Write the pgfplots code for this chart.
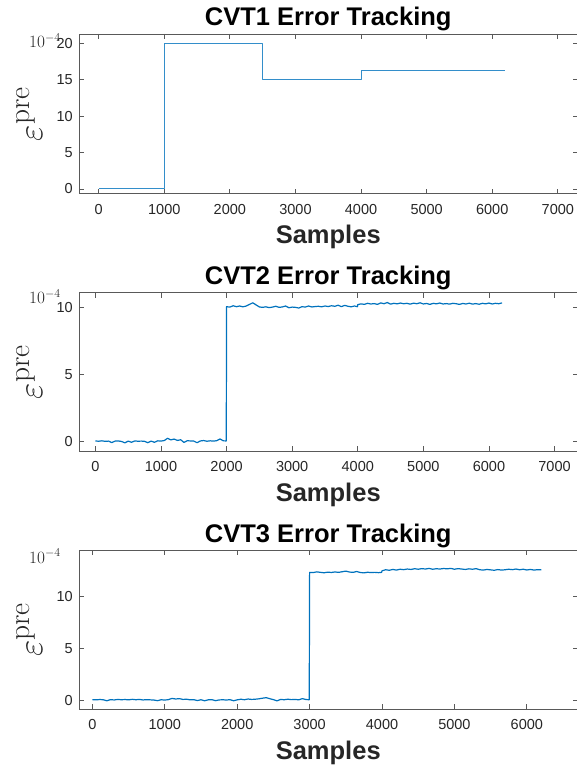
\documentclass[border=0pt]{standalone}
\usepackage[no-math]{fontspec}
\setmainfont{Liberation Sans}
\usepackage{pgfplots}
\pgfplotsset{compat=1.18}
\usetikzlibrary{calc}

\definecolor{mblue}{RGB}{0,114,189}
\definecolor{tickgray}{RGB}{38,38,38}

\pgfplotsset{
  cvt/.style={
    scale only axis,
    width=498.5pt,
    anchor=south west,
    axis line style={black!65, line width=0.8pt},
    tick style={black!65, line width=0.8pt},
    major tick length=5pt,
    tick align=inside,
    scaled ticks=false,
    /pgf/number format/assume math mode=true,
    /pgf/number format/1000 sep={},
    ticklabel style={font=\fontsize{14.5}{16}\selectfont, text=tickgray},
    xticklabel style={inner sep=0pt, yshift=-10pt},
    yticklabel style={inner sep=0pt, xshift=-6pt},
    xtick={0,1000,...,7000},
  },
  sig/.style={mblue, line width=1.2pt, line join=round},
}

% title, x label, y label and the 10^{-4} factor of one axis
\newcommand{\decor}[3]{%
  \node[anchor=base, font=\fontsize{25.5}{28}\selectfont\bfseries]
    at ([yshift=8pt]#1.north) {#2};
  \node[anchor=base, font=\fontsize{25.5}{28}\selectfont\bfseries, text=tickgray]
    at ([yshift=-50pt]#1.south) {Samples};
  \node[rotate=90, anchor=base, font=\fontsize{24.88}{28}\selectfont, text=tickgray]
    at ([xshift=-37pt]$(#1.north west)!0.5!(#1.south west)$) {\scalebox{1.42}{$\varepsilon^{\mathrm{pre}}$}};
  \node[anchor=base east, inner sep=0pt, font=\fontsize{17.28}{19}\selectfont, text=tickgray]
    at ([xshift=-18pt,yshift=-#3]#1.north west) {$10^{-4}$};
}

\begin{document}
\begin{tikzpicture}

% CVT1
\begin{axis}[cvt, name=a1, at={(79pt,-193.7pt)}, height=159.7pt,
  xmin=-300, xmax=7300, ymin=-0.65, ymax=21.28, ytick={0,5,10,15,20}]
\addplot[sig, line width=1pt, mblue!80] coordinates {
(0,0)(1000,0)(1000,20)(2500,20)(2500,15.05)(4000,15.05)(4000,16.2)(6200,16.2)};
\end{axis}
\decor{a1}{CVT1 Error Tracking}{14pt}

% CVT2
\begin{axis}[cvt, name=a2, at={(79pt,-451.3pt)}, height=158.6pt,
  xmin=-250, xmax=7350, ymin=-0.71, ymax=11.09, ytick={0,5,10}]
\addplot[sig] coordinates {
(0,0.06)(50,0.04)(100,0.07)(150,0.03)(200,0.05)(250,-0.06)(300,0.05)(350,0.06)
(400,0.02)(450,-0.08)(500,0.05)(550,-0.04)(600,0.06)(650,0.04)(700,0.05)(750,0.03)
(800,-0.07)(850,0.05)(900,-0.04)(950,0.07)(1000,0.05)(1050,0.09)(1100,0.26)(1150,0.14)
(1200,0.20)(1250,0.10)(1300,0.15)(1350,-0.05)(1400,0.08)(1450,0.06)(1500,0.05)(1550,-0.07)
(1600,0.06)(1650,0.09)(1700,0.04)(1750,0.07)(1800,0.05)(1850,0.08)(1900,0.21)(1950,0.07)
(1995,0.06)(2000,10.05)(2050,10.02)(2100,10.12)(2150,10.05)(2200,10.1)(2250,10.04)(2300,10.1)
(2350,10.22)(2400,10.34)(2450,10.18)(2500,10.03)(2550,10.0)(2600,10.04)(2650,9.98)(2700,10.02)
(2750,10.08)(2800,10.0)(2850,10.03)(2900,10.1)(2950,9.97)(3000,10.02)(3050,10.0)(3100,9.95)
(3150,10.05)(3200,10.02)(3250,10.1)(3300,10.03)(3350,10.06)(3400,10.08)(3450,10.04)(3500,10.1)
(3550,10.06)(3600,10.12)(3650,10.08)(3700,10.16)(3750,10.05)(3800,10.15)(3850,10.08)(3900,10.04)
(3950,10.1)(3995,10.05)(4000,10.2)(4050,10.26)(4100,10.22)(4150,10.3)(4200,10.25)(4250,10.28)
(4300,10.22)(4350,10.33)(4400,10.27)(4450,10.36)(4500,10.24)(4550,10.3)(4600,10.26)(4650,10.32)
(4700,10.27)(4750,10.3)(4800,10.24)(4850,10.31)(4900,10.27)(4950,10.34)(5000,10.25)(5050,10.29)
(5100,10.22)(5150,10.3)(5200,10.26)(5250,10.32)(5300,10.25)(5350,10.28)(5400,10.24)(5450,10.3)
(5500,10.27)(5550,10.22)(5600,10.29)(5650,10.25)(5700,10.31)(5750,10.24)(5800,10.28)(5850,10.23)
(5900,10.3)(5950,10.26)(6000,10.32)(6050,10.25)(6100,10.3)(6150,10.27)(6200,10.33)};
\end{axis}
\decor{a2}{CVT2 Error Tracking}{11pt}

% CVT3
\begin{axis}[cvt, name=a3, at={(79pt,-709.3pt)}, height=159.3pt,
  xmin=-185, xmax=6700, ymin=-0.87, ymax=14.45, ytick={0,5,10}, xtick={0,1000,...,6000}]
\addplot[sig] coordinates {
(0,0.06)(50,0.04)(100,0.07)(150,0.05)(200,-0.05)(250,0.06)(300,0.03)(350,0.08)
(400,0.05)(450,0.07)(500,0.04)(550,0.09)(600,0.05)(650,0.08)(700,0.03)(750,0.06)
(800,0.04)(850,0.02)(900,-0.04)(950,0.05)(1000,0.02)(1050,0.06)(1100,0.18)(1150,0.12)
(1200,0.16)(1250,0.08)(1300,0.1)(1350,0.04)(1400,0.06)(1450,-0.03)(1500,0.05)(1550,-0.05)
(1600,0.04)(1650,0.06)(1700,-0.04)(1750,0.03)(1800,0.05)(1850,0.02)(1900,0.06)(1950,-0.05)
(2000,0.04)(2050,0.1)(2100,0.05)(2150,0.12)(2200,0.08)(2250,0.1)(2300,0.14)(2350,0.2)
(2400,0.25)(2450,0.15)(2500,0.06)(2550,-0.06)(2600,0.08)(2650,0.05)(2700,0.1)(2750,0.06)
(2800,0.08)(2850,0.04)(2900,0.16)(2950,0.07)(2995,0.05)
(3000,12.3)(3050,12.28)(3100,12.35)(3150,12.3)(3200,12.26)(3250,12.32)(3300,12.29)(3350,12.34)
(3400,12.3)(3450,12.36)(3500,12.42)(3550,12.33)(3600,12.3)(3650,12.38)(3700,12.29)(3750,12.25)
(3800,12.31)(3850,12.28)(3900,12.3)(3950,12.27)(3995,12.3)(4000,12.45)(4050,12.55)(4100,12.5)
(4150,12.58)(4200,12.52)(4250,12.6)(4300,12.56)(4350,12.62)(4400,12.58)(4450,12.65)(4500,12.6)
(4550,12.66)(4600,12.62)(4650,12.68)(4700,12.6)(4750,12.65)(4800,12.62)(4850,12.67)(4900,12.64)
(4950,12.68)(5000,12.6)(5050,12.66)(5100,12.62)(5150,12.58)(5200,12.64)(5250,12.6)(5300,12.66)
(5350,12.55)(5400,12.52)(5450,12.58)(5500,12.54)(5550,12.5)(5600,12.57)(5650,12.52)(5700,12.55)
(5750,12.6)(5800,12.56)(5850,12.62)(5900,12.55)(5950,12.6)(6000,12.53)(6050,12.58)(6100,12.52)
(6150,12.56)(6200,12.54)};
\end{axis}
\decor{a3}{CVT3 Error Tracking}{13pt}

\pgfresetboundingbox
\useasboundingbox (0,0) rectangle (577pt,-768pt);
\end{tikzpicture}
\end{document}
